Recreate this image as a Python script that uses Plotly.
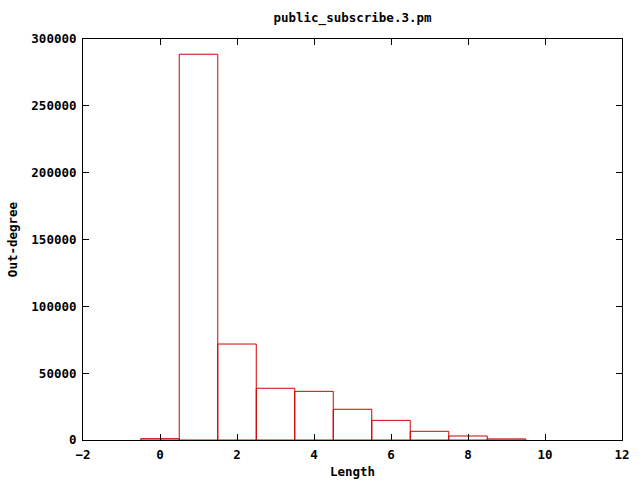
import plotly.graph_objects as go

lengths = [0, 1, 2, 3, 4, 5, 6, 7, 8, 9]
out_degree = [1000, 288600, 71800, 38700, 36400, 23000, 14700, 6500, 3000, 800]
x_ticks = [-2, 0, 2, 4, 6, 8, 10, 12]
y_ticks = [0, 50000, 100000, 150000, 200000, 250000, 300000]

font = dict(family="DejaVu Sans Mono", size=12.5, color="black", weight="bold")

# gnuplot-style boxes: each box outlined from its centre, width 1 and height
box_x, box_y = [], []
for c, h in zip(lengths, out_degree):
    box_x += [c - 0.5, c - 0.5, c + 0.5, c + 0.5, c - 0.5, None]
    box_y += [0, h, h, 0, 0, None]

fig = go.Figure(go.Scatter(
    x=box_x, y=box_y, mode="lines",
    line=dict(color="#d00000", width=1),
    hoverinfo="skip",
))

fig.update_layout(
    width=640, height=480,
    margin=dict(l=83, r=18, t=39, b=40, autoexpand=False),
    paper_bgcolor="white", plot_bgcolor="white",
    font=font,
    showlegend=False,
    title=dict(text="public_subscribe.3.pm", x=(83 + 622) / 2 / 640, xanchor="center",
               y=1 - 18 / 480, yanchor="middle", font=font),
)
fig.update_xaxes(
    range=[-2, 12], tickvals=x_ticks, ticks="inside", ticklen=6, tickwidth=1,
    tickcolor="black", showline=True, linecolor="black", linewidth=1, mirror="ticks",
    showgrid=False, zeroline=False, automargin=False, ticklabelstandoff=3,
    title=dict(text="Length", font=font, standoff=6),
)
fig.update_yaxes(
    range=[0, 300000], tickvals=y_ticks, ticks="inside", ticklen=6, tickwidth=1,
    tickcolor="black", showline=True, linecolor="black", linewidth=1, mirror="ticks",
    showgrid=False, zeroline=False, tickformat="d", automargin=False, ticklabelstandoff=3,
    title=dict(text="Out-degree", font=font, standoff=10),
)

fig.write_html("out.html", config={"displayModeBar": False},
               post_script="document.body.style.margin='0';")
